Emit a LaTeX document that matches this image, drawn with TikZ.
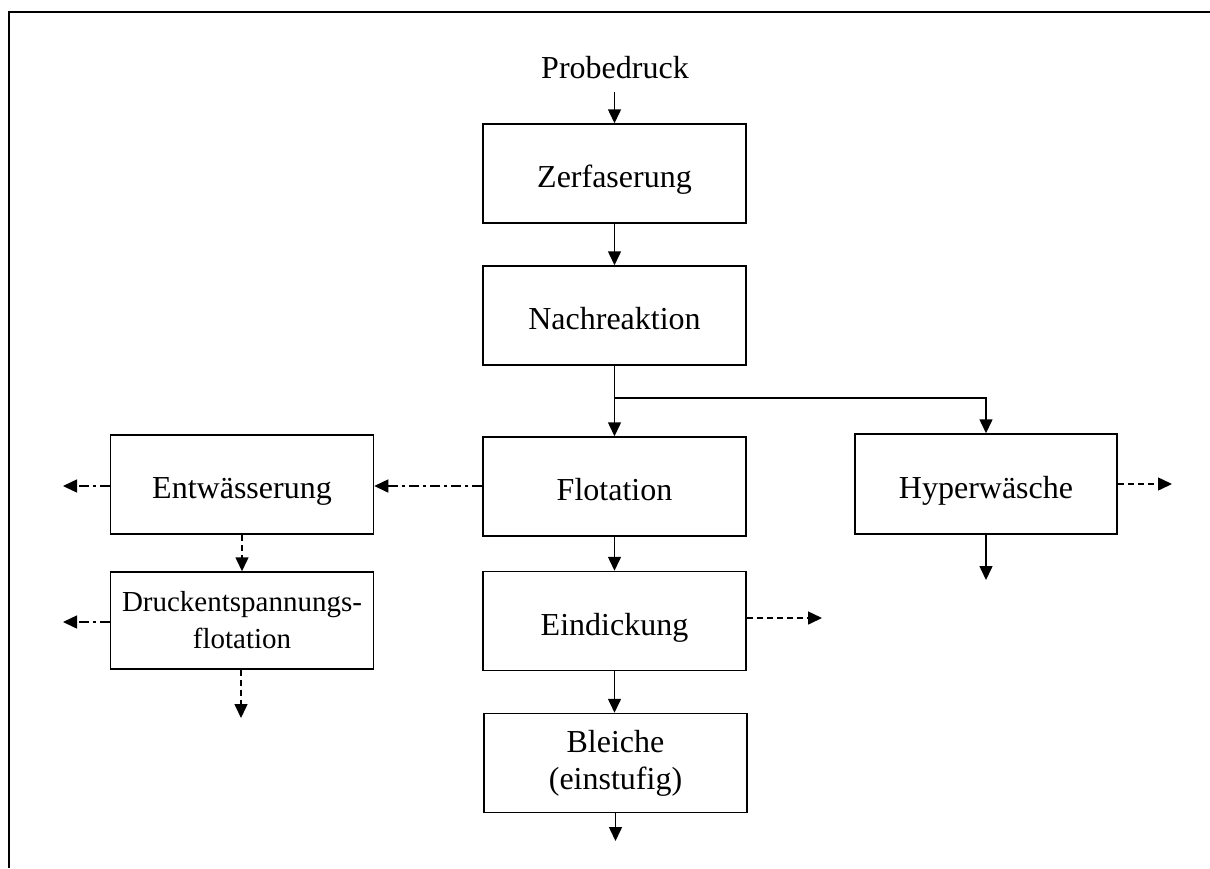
\documentclass[tikz,border=0pt]{standalone}
\usepackage{fontspec}
\setmainfont{Liberation Serif}
\usetikzlibrary{arrows.meta}
\begin{document}
\begin{tikzpicture}[x=1pt,y=-1pt,
  box/.style={draw, line width=1.5pt, minimum width=263pt, minimum height=99pt, inner sep=0pt, align=center, font=\fontsize{32}{37}\selectfont},
  onebox/.style={box, text height=28pt, text depth=0pt},
  smallbox/.style={box, font=\fontsize{29}{37}\selectfont},
  arr/.style={line width=1.5pt, -{Triangle[length=14pt,width=13pt]}},
  dsh/.style={arr, dash pattern=on 6pt off 4pt},
  dshdot/.style={arr, dash pattern=on 10pt off 4pt on 3pt off 4pt}]
\useasboundingbox (0,0) rectangle (1210,868);
\draw[line width=2pt] (9,868) -- (9,12) -- (1210,12);

\node[font=\fontsize{32}{37}\selectfont] (probe) at (615,68) {Probedruck};
\node[onebox] (zerf) at (614.5,173.5) {Zerfaserung};
\node[onebox] (nach) at (614.5,315.5) {Nachreaktion};
\node[onebox] (flot) at (614.5,486.5) {Flotation};
\node[onebox] (eind) at (614.5,621) {Eindickung};
\node[box] (bleich) at (615.5,763) {Bleiche\\(einstufig)};
\node[onebox, minimum width=262pt, minimum height=100pt] (hyper) at (986,484) {Hyperwäsche};
\node[onebox] (entw) at (242,484.5) {Entwässerung};
\node[smallbox, minimum height=97pt] (druck) at (242,620.5) {Druckentspannungs-\\flotation};

\coordinate (pin) at (614.5,92);
\coordinate (split) at (614.5,398);
\coordinate (hyperR) at (1172,484);
\coordinate (hyperD) at (986,580);
\coordinate (eindR) at (822,618);
\coordinate (bleichD) at (615.5,841);
\coordinate (entwL) at (63,486);
\coordinate (druckL) at (63,622);
\coordinate (druckD) at (241,718);

\draw[arr] (pin) -- (pin |- zerf.north);
\draw[arr] (zerf.south) -- (nach.north);
\draw[line width=1.5pt] (nach.south) -- (split);
\draw[arr] (split) -- (flot.north);
\draw[arr] (split) -| (hyper.north);
\draw[dsh] (hyper.east) -- (hyperR);
\draw[arr] (hyper.south) -- (hyperD);
\draw[arr] (flot.south) -- (eind.north);
\draw[dsh] (eind.east |- eindR) -- (eindR);
\draw[arr] (eind.south) -- (bleich.north -| eind.south);
\draw[arr] (bleich.south) -- (bleichD);
\draw[dshdot] (flot.west |- entwL) -- (entw.east |- entwL);
\draw[dshdot] (entw.west |- entwL) -- (entwL);
\draw[dsh] (entw.south) -- (druck.north);
\draw[dshdot] (druck.west |- druckL) -- (druckL);
\draw[dsh] (druckD |- druck.south) -- (druckD);
\end{tikzpicture}
\end{document}
